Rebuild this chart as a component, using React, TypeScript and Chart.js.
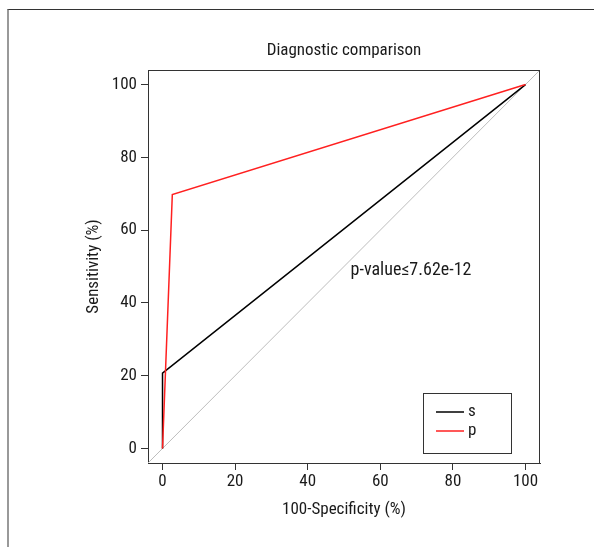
import React, { useEffect, useRef } from "react";
import { Chart, registerables } from "chart.js";

Chart.register(...registerables);

const TITLE = "Diagnostic comparison";
const X_TITLE = "100-Specificity (%)";
const Y_TITLE = "Sensitivity (%)";
const ANNOTATION = "p-value\u22647.62e-12";
const TICKS = [0, 20, 40, 60, 80, 100];
const AXIS_MIN = -4;
const AXIS_MAX = 104;
const SERIES_NAMES = ["s", "p"];
const SERIES_COLORS = ["#000000", "#ff2020"];
const S_X = [0, 0, 100];
const S_Y = [0, 20.7, 100];
const P_X = [0, 2.7, 100];
const P_Y = [0, 69.8, 100];
const DIAG = [-4, 104];
const ANNOT_POS = [51.8, 48.9];

const FAMILY =
  "'Liberation Sans Narrow', 'Roboto Condensed', 'Open Sans Condensed', 'Noto Sans Condensed', 'DejaVu Sans Condensed', sans-serif";
const FONT_SIZE = 17;
const TEXT_COLOR = "#1a1a1a";
const AXIS_COLOR = "#333333";

const pts = (xs: number[], ys: number[]) => xs.map((x, i) => ({ x, y: ys[i] }));

const extrasPlugin = {
  id: "extras",
  afterDatasetsDraw(chart: any) {
    const { ctx, chartArea, scales } = chart;
    ctx.save();
    // box (top + right edges)
    ctx.strokeStyle = AXIS_COLOR;
    ctx.lineWidth = 1;
    ctx.beginPath();
    ctx.moveTo(chartArea.left, Math.round(chartArea.top) + 0.5);
    ctx.lineTo(chartArea.right, Math.round(chartArea.top) + 0.5);
    ctx.moveTo(Math.round(chartArea.right) - 0.5, chartArea.top);
    ctx.lineTo(Math.round(chartArea.right) - 0.5, chartArea.bottom);
    ctx.stroke();

    // annotation
    ctx.font = `18px ${FAMILY}`;
    ctx.fillStyle = TEXT_COLOR;
    ctx.textAlign = "left";
    ctx.textBaseline = "middle";
    ctx.fillText(ANNOTATION, scales.x.getPixelForValue(ANNOT_POS[0]), scales.y.getPixelForValue(ANNOT_POS[1]));

    // legend box
    ctx.font = `${FONT_SIZE}px ${FAMILY}`;
    const bw = 88;
    const bh = 60;
    const bx = Math.round(chartArea.right) - 29 - bw;
    const by = Math.round(chartArea.bottom) - 10 - bh;
    ctx.strokeStyle = AXIS_COLOR;
    ctx.lineWidth = 1;
    ctx.strokeRect(bx + 0.5, by + 0.5, bw, bh);
    SERIES_NAMES.forEach((name, i) => {
      const ly = by + 19 + i * 19;
      ctx.strokeStyle = SERIES_COLORS[i];
      ctx.lineWidth = 1.5;
      ctx.beginPath();
      ctx.moveTo(bx + 13, ly);
      ctx.lineTo(bx + 41, ly);
      ctx.stroke();
      ctx.fillStyle = TEXT_COLOR;
      ctx.textAlign = "left";
      ctx.textBaseline = "middle";
      ctx.fillText(name, bx + 45, ly);
    });
    ctx.restore();
  },
};

export default function App() {
  const ref = useRef<HTMLCanvasElement | null>(null);

  useEffect(() => {
    if (!ref.current) return;
    const font = { family: FAMILY, size: FONT_SIZE, weight: "normal" as const };
    const half = (FONT_SIZE * 1.2) / 2;
    const chart = new Chart(ref.current, {
      type: "line",
      data: {
        datasets: [
          {
            label: SERIES_NAMES[1],
            data: pts(P_X, P_Y),
            borderColor: SERIES_COLORS[1],
            borderWidth: 1.5,
            pointRadius: 0,
            tension: 0,
          },
          {
            label: SERIES_NAMES[0],
            data: pts(S_X, S_Y),
            borderColor: SERIES_COLORS[0],
            borderWidth: 1.5,
            pointRadius: 0,
            tension: 0,
          },
          {
            label: "reference",
            data: pts(DIAG, DIAG),
            borderColor: "#bdbdbd",
            borderWidth: 1,
            pointRadius: 0,
            tension: 0,
          },
        ],
      },
      options: {
        responsive: false,
        animation: false,
        layout: { padding: { left: 0, right: 54, top: 0, bottom: 0 } },
        plugins: {
          legend: { display: false },
          tooltip: { enabled: false },
          title: {
            display: true,
            fullSize: false,
            text: TITLE,
            color: TEXT_COLOR,
            font,
            padding: { top: 51 - half, bottom: 70 - (51 - half) - 2 * half },
          },
        },
        scales: {
          x: {
            type: "linear",
            min: AXIS_MIN,
            max: AXIS_MAX,
            afterFit: (s: any) => {
              s.height = 84;
            },
            afterBuildTicks: (s: any) => {
              s.ticks = TICKS.map((v) => ({ value: v }));
            },
            grid: { drawOnChartArea: false, drawTicks: true, tickLength: 7, color: AXIS_COLOR },
            border: { display: true, color: AXIS_COLOR },
            ticks: { padding: 2, color: TEXT_COLOR, font, maxRotation: 0 },
            title: {
              display: true,
              text: X_TITLE,
              color: TEXT_COLOR,
              font,
              padding: { top: 0, bottom: 547 - 510 - half },
            },
          },
          y: {
            type: "linear",
            min: AXIS_MIN,
            max: AXIS_MAX,
            afterFit: (s: any) => {
              s.width = 148;
            },
            afterBuildTicks: (s: any) => {
              s.ticks = TICKS.map((v) => ({ value: v }));
            },
            grid: { drawOnChartArea: false, drawTicks: true, tickLength: 7, color: AXIS_COLOR },
            border: { display: true, color: AXIS_COLOR },
            ticks: { padding: 4, color: TEXT_COLOR, font },
            title: {
              display: true,
              text: Y_TITLE,
              color: TEXT_COLOR,
              font,
              padding: { top: 94 - half, bottom: 0 },
            },
          },
        },
      },
      plugins: [extrasPlugin],
    });
    return () => chart.destroy();
  }, []);

  return (
    <div style={{ position: "absolute", left: 0, top: 0, width: 594, height: 547, background: "#fff" }}>
      <div
        style={{
          position: "absolute",
          left: 7,
          top: 9,
          right: 0,
          bottom: 0,
          borderTop: "1px solid #333",
          borderLeft: "2px solid #999",
        }}
      />
      <canvas ref={ref} width={594} height={547} style={{ position: "absolute", left: 0, top: 0 }} />
    </div>
  );
}
